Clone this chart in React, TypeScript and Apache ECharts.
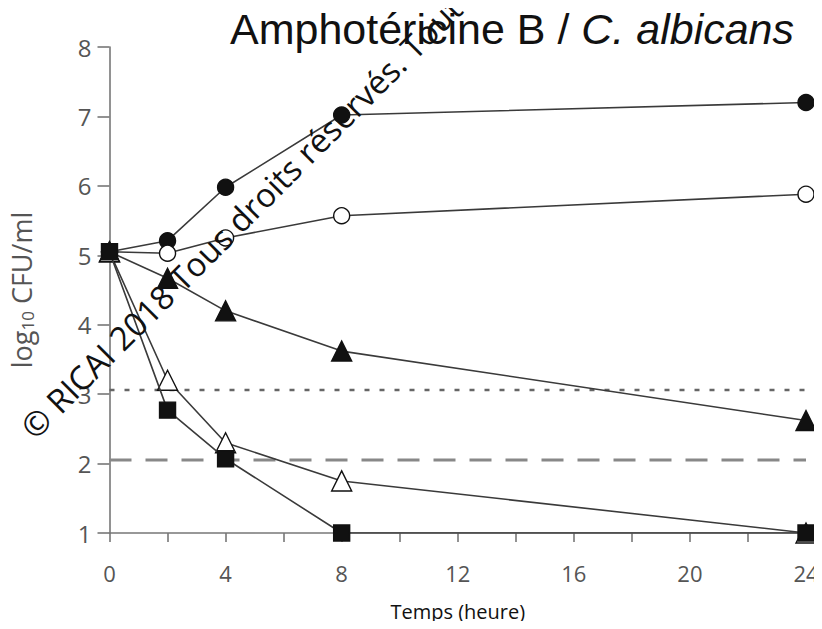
import React, { useEffect, useRef } from "react";
import * as echarts from "echarts";

const hours = [0, 2, 4, 8, 24];
const filledCircle = [5.05, 5.21, 5.98, 7.02, 7.2];
const openCircle = [5.05, 5.03, 5.25, 5.57, 5.88];
const filledTriangle = [5.05, 4.67, 4.2, 3.62, 2.62];
const openTriangle = [5.05, 3.2, 2.3, 1.75, 1.0];
const filledSquare = [5.05, 2.77, 2.07, 1.0, 1.0];
const dottedLevel = 3.06;
const dashedLevel = 2.05;
const xTicks = [0, 4, 8, 12, 16, 20, 24];
const yTicks = [1, 2, 3, 4, 5, 6, 7, 8];

const LINE = "#3a3a3a";

function pts(vals: number[]) {
  return hours.map((h, i) => [h, vals[i]]);
}

export default function App() {
  const ref = useRef<HTMLDivElement>(null);
  useEffect(() => {
    if (!ref.current) return;
    const chart = echarts.init(ref.current, undefined, { renderer: "svg" });
    const mk = (name: string, vals: number[], symbol: string, size: number, filled: boolean, z: number) => ({
      name,
      type: "line",
      data: pts(vals),
      symbol,
      symbolSize: size,
      showAllSymbol: true,
      z,
      lineStyle: { color: LINE, width: 1.6 },
      itemStyle: { color: filled ? "#111" : "#fff", borderColor: "#111", borderWidth: 1.4 },
    });
    chart.setOption({
      animation: false,
      backgroundColor: "#fff",
      title: {
        text: "{n|Amphotéricine B / }{i|C. albicans}",
        left: 225,
        top: 2,
        textStyle: {
          fontWeight: "normal",
          rich: {
            n: { fontFamily: "Liberation Sans", fontSize: 43, fontWeight: "normal", color: "#111" },
            i: { fontFamily: "Liberation Sans", fontSize: 43, fontWeight: "normal", fontStyle: "italic", color: "#111" },
          },
        },
      },
      grid: { left: 108, right: 16, top: 47, bottom: 96, containLabel: false },
      xAxis: {
        type: "value",
        min: xTicks[0],
        max: xTicks[xTicks.length - 1],
        interval: 4,
        name: "Temps (heure)",
        nameLocation: "middle",
        nameGap: 68,
        nameTextStyle: { fontFamily: "Open Sans", fontSize: 20, color: "#111" },
        axisLine: { show: true, lineStyle: { color: "#777", width: 1.6 } },
        axisTick: { show: true, length: 9, lineStyle: { color: "#777", width: 1.6 } },
        minorTick: { show: true, splitNumber: 2, length: 9, lineStyle: { color: "#777", width: 1.6 } },
        axisLabel: { margin: 29, fontFamily: "Open Sans", fontSize: 22, color: "#555" },
        splitLine: { show: false },
      },
      yAxis: {
        type: "value",
        min: yTicks[0],
        max: yTicks[yTicks.length - 1],
        interval: 1,
        name: "{a|log}{b|10}{a| CFU/ml}",
        nameLocation: "middle",
        nameGap: 74,
        nameTextStyle: {
          rich: {
            a: { fontFamily: "Open Sans", fontSize: 27, color: "#555" },
            b: { fontFamily: "Open Sans", fontSize: 17, color: "#555", padding: [11, 0, 0, 0] },
          },
        },
        axisLine: { show: true, lineStyle: { color: "#777", width: 1.6 } },
        axisTick: { show: true, length: 12, lineStyle: { color: "#777", width: 1.6 } },
        axisLabel: {
          margin: 18,
          fontFamily: "Open Sans",
          fontSize: 24,
          color: "#555",
        },
        splitLine: { show: false },
      },
      series: [
        {
          name: "dotted",
          type: "line",
          data: [[0, dottedLevel], [24, dottedLevel]],
          symbol: "none",
          z: 1,
          lineStyle: { color: "#666", width: 2.5, type: [5, 10] },
        },
        {
          name: "dashed",
          type: "line",
          data: [[0, dashedLevel], [24, dashedLevel]],
          symbol: "none",
          z: 1,
          lineStyle: { color: "#888", width: 3, type: [22, 14] },
        },
        mk("filledCircle", filledCircle, "circle", 16, true, 3),
        mk("openCircle", openCircle, "circle", 16, false, 3),
        mk("filledTriangle", filledTriangle, "triangle", 20, true, 3),
        mk("openTriangle", openTriangle, "triangle", 20, false, 3),
        mk("filledSquare", filledSquare, "rect", 16, true, 4),
      ],
      graphic: [
        {
          type: "text",
          x: 38,
          y: 444,
          rotation: (45 * Math.PI) / 180,
          z: 100,
          style: {
            text: "© RICAI 2018 Tous droits réservés. Toute",
            fontFamily: "Open Sans",
            fontSize: 33,
            fill: "#111",
            textAlign: "left",
            textVerticalAlign: "bottom",
          },
        },
      ],
    });
    return () => chart.dispose();
  }, []);
  return <div ref={ref} style={{ width: 822, height: 629, margin: -8 }} />;
}
